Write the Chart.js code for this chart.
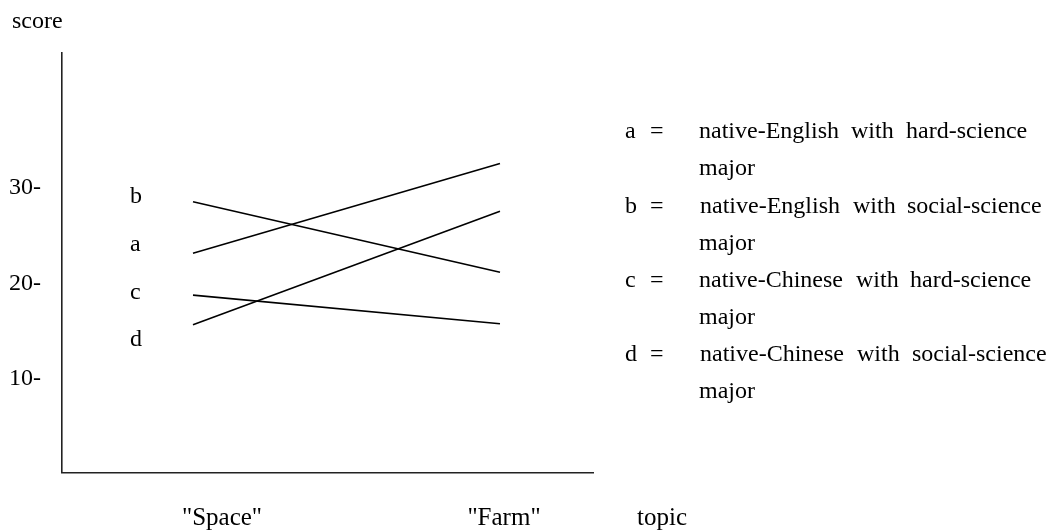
<!DOCTYPE html>
<html><head><meta charset="utf-8">
<script src="https://cdn.jsdelivr.net/npm/chart.js@4"></script>
<style>html,body{margin:0;padding:0;background:#fff}#wrap{width:1048px;height:530px;position:relative}</style>
</head><body><div id="wrap"><canvas id="c"></canvas></div>
<script>
// ---- data ----
const categories = ['"Space"', '"Farm"'];
const seriesNames = ['a', 'b', 'c', 'd'];
const seriesA = [23.0, 32.4];
const seriesB = [28.4, 21.0];
const seriesC = [18.6, 15.6];
const seriesD = [15.5, 27.4];
const yTicks = [10, 20, 30];
const yLabel = 'score';
const xLabel = 'topic';
const sideLabels = ['b', 'a', 'c', 'd'];
const legendKeys = ['a', 'b', 'c', 'd'];
const legendWords = [
  ['native-English', 'with', 'hard-science'],
  ['native-English', 'with', 'social-science'],
  ['native-Chinese', 'with', 'hard-science'],
  ['native-Chinese', 'with', 'social-science']
];
const legendTail = 'major';

const FONT = '24px "Liberation Serif", "Times New Roman", serif';
const allSeries = [seriesA, seriesB, seriesC, seriesD];

const datasets = allSeries.map((vals, i) => ({
  label: seriesNames[i],
  data: vals.map((v, j) => ({x: j, y: v})),
  borderColor: '#000',
  backgroundColor: '#000',
  borderWidth: 1.6,
  pointRadius: 0,
  tension: 0
}));

const textPlugin = {
  id: 'texts',
  afterDraw(chart) {
    const ctx = chart.ctx;
    ctx.save();
    ctx.font = FONT;
    ctx.fillStyle = '#000';
    ctx.textBaseline = 'alphabetic';
    ctx.textAlign = 'left';
    // axis titles
    ctx.fillText(yLabel, 12, 28);
    // category labels
    const catX = [222, 504];
    ctx.textAlign = 'center';
    ctx.font = '25px "Liberation Serif", "Times New Roman", serif';
    categories.forEach((c, i) => ctx.fillText(c, catX[i], 525));
    ctx.textAlign = 'left';
    ctx.fillText(xLabel, 637, 525);
    ctx.font = FONT;
    // side letters
    const sideY = [203, 251, 299, 346];
    sideLabels.forEach((s, i) => ctx.fillText(s, 130, sideY[i]));
    // legend
    const baseY = [138, 212.6, 287, 361];
    const wordX = [[699, 851, 906], [700, 853, 907], [699, 856, 910], [700, 857, 912]];
    legendKeys.forEach((k, i) => {
      const y = baseY[i];
      ctx.fillText(k, 625, y);
      ctx.fillText('=', 650, y);
      legendWords[i].forEach((w, j) => ctx.fillText(w, wordX[i][j], y));
      ctx.fillText(legendTail, 699, y + 37.3);
    });
    ctx.restore();
  }
};

new Chart(document.getElementById('c'), {
  type: 'line',
  data: { datasets },
  options: {
    responsive: true,
    maintainAspectRatio: false,
    animation: false,
    devicePixelRatio: 1,
    layout: { padding: { top: 53, right: 455, left: 0, bottom: 0 } },
    plugins: { legend: { display: false }, title: { display: false }, tooltip: { enabled: false } },
    scales: {
      x: {
        type: 'linear',
        min: -0.4267,
        max: 1.303,
        grid: { display: false },
        border: { display: true, color: '#222', width: 1.6 },
        ticks: { display: false },
        afterFit(s) { s.height = 57.5; }
      },
      y: {
        type: 'linear',
        min: 0,
        max: 44,
        grid: { display: false },
        border: { display: true, color: '#222', width: 1.6 },
        afterBuildTicks(s) { s.ticks = yTicks.map(v => ({ value: v })); },
        ticks: {
          callback: v => v + '-',
          color: '#000',
          font: { family: '"Liberation Serif", "Times New Roman", serif', size: 24 },
          padding: 13,
          labelOffset: 1.5
        },
        afterFit(s) { s.width = 62; }
      }
    }
  },
  plugins: [textPlugin]
});
</script>
</body></html>
